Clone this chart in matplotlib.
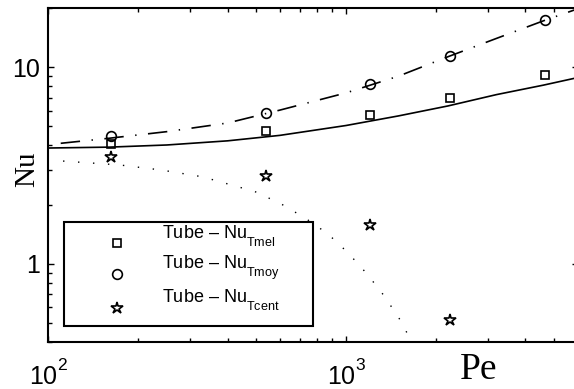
import numpy as np
import matplotlib
matplotlib.use("Agg")
import matplotlib.pyplot as plt
from matplotlib import _mathtext
from matplotlib.patches import Rectangle
from matplotlib.ticker import LogLocator, NullFormatter, FixedLocator, FixedFormatter

plt.rcParams['font.family'] = ['Liberation Sans', 'DejaVu Sans']
plt.rcParams['mathtext.fontset'] = 'custom'
plt.rcParams['mathtext.rm'] = 'Liberation Sans'
plt.rcParams['mathtext.it'] = 'Liberation Sans:italic'
plt.rcParams['lines.scale_dashes'] = False

# MATLAB-like sub/superscript placement (lower subscripts, higher superscripts)
_mathtext.FontConstantsBase.sub1 = 0.86
_mathtext.FontConstantsBase.sup1 = 1.0

# -----------------------------
# Data
# -----------------------------
pe = [162, 539, 1203, 2235, 4654]
nu_tmel = [4.07, 4.73, 5.71, 6.96, 9.1]
nu_tmoy = [4.46, 5.84, 8.2, 11.4, 17.3]
pe_cent = [162, 539, 1203, 2235]
nu_tcent = [3.49, 2.80, 1.58, 0.52]

# fitted curves
pe_fit = [100, 160, 250, 400, 600, 1000, 1500, 2200, 3200, 4600, 6000]
fit_mel = [3.88, 3.92, 4.02, 4.22, 4.50, 5.05, 5.65, 6.35, 7.25, 8.10, 8.85]
pe_fit_moy = [110, 160, 250, 400, 600, 1000, 1500, 2200, 3200, 4600, 6000]
fit_moy = [4.1, 4.35, 4.7, 5.2, 6.05, 7.4, 9.0, 11.3, 14.0, 17.2, 19.8]
pe_fit_cent = [112, 174, 239, 329, 494, 604, 728, 869, 1014, 1175, 1340, 1506, 1680]
fit_cent = [3.33, 3.18, 3.0, 2.77, 2.33, 2.02, 1.71, 1.42, 1.14, 0.89, 0.69, 0.53, 0.39]

labels = [r'Tube – Nu$_{\mathregular{Tmel}}$',
          r'Tube – Nu$_{\mathregular{Tmoy}}$',
          r'Tube – Nu$_{\mathregular{Tcent}}$']

# -----------------------------
# Figure
# -----------------------------
fig = plt.figure(figsize=(5.74, 3.89), dpi=100)
ax = fig.add_axes([48.4 / 574, 47 / 389, 529.2 / 574, 334 / 389])

ax.plot(pe_fit, fit_mel, color='k', lw=1.2)
ax.plot(pe_fit_moy, fit_moy, color='k', lw=1.2, dashes=(14, 8.3, 1, 8.3))
ax.plot(pe_fit_cent, fit_cent, color='k', lw=1.0, dashes=(1, 9.8))

h1, = ax.plot(pe, nu_tmel, 's', ms=6, mfc='none', mec='k', mew=1.2)
h2, = ax.plot(pe, nu_tmoy, 'o', ms=7, mfc='none', mec='k', mew=1.2)
h3, = ax.plot(pe_cent, nu_tcent, '*', ms=9, mfc='none', mec='k', mew=1.2)

ax.set_xscale('log')
ax.set_yscale('log')
ax.set_xlim(100, 6000)
ax.set_ylim(0.4, 20)

ax.yaxis.set_major_locator(FixedLocator([1, 10]))
ax.yaxis.set_major_formatter(FixedFormatter(['1', '10']))
ax.yaxis.set_minor_locator(LogLocator(base=10, subs=np.arange(2, 10)))
ax.yaxis.set_minor_formatter(NullFormatter())
ax.xaxis.set_minor_locator(LogLocator(base=10, subs=np.arange(2, 10)))
ax.xaxis.set_minor_formatter(NullFormatter())

ax.tick_params(which='both', direction='in', top=True, right=True, width=1.0)
ax.tick_params(which='major', length=4)
ax.tick_params(which='minor', length=3)
ax.tick_params(axis='x', which='major', labelsize=18, pad=12.6)
ax.tick_params(axis='y', which='major', labelsize=18, pad=6)
for s in ax.spines.values():
    s.set_linewidth(1.5)

fig.text(27.5 / 574, 1 - 169.5 / 389, 'Nu', rotation=90, ha='center', va='center',
         fontsize=21, family='Liberation Serif')
fig.text(479 / 574, 1 - 379 / 389, 'Pe', ha='center', va='baseline',
         fontsize=27, family='Liberation Serif')

# legend box (white, black edge) and legend content
ax.add_patch(Rectangle((0.0295, 0.0479), 0.4705, 0.3114, transform=ax.transAxes,
                       facecolor='white', edgecolor='k', lw=1.5, zorder=4.9))
leg = ax.legend([h1, h2, h3], labels, loc='upper left',
                bbox_to_anchor=(0.0956, 0.3563), frameon=False,
                borderaxespad=0, borderpad=0, fontsize=13, labelspacing=0.27,
                handlelength=2.0, handletextpad=1.5, numpoints=1)
for lh in leg.legend_handles:
    lh.set_ydata(np.asarray(lh.get_ydata()) - 8.5)

fig.savefig('out.png', dpi=100)
